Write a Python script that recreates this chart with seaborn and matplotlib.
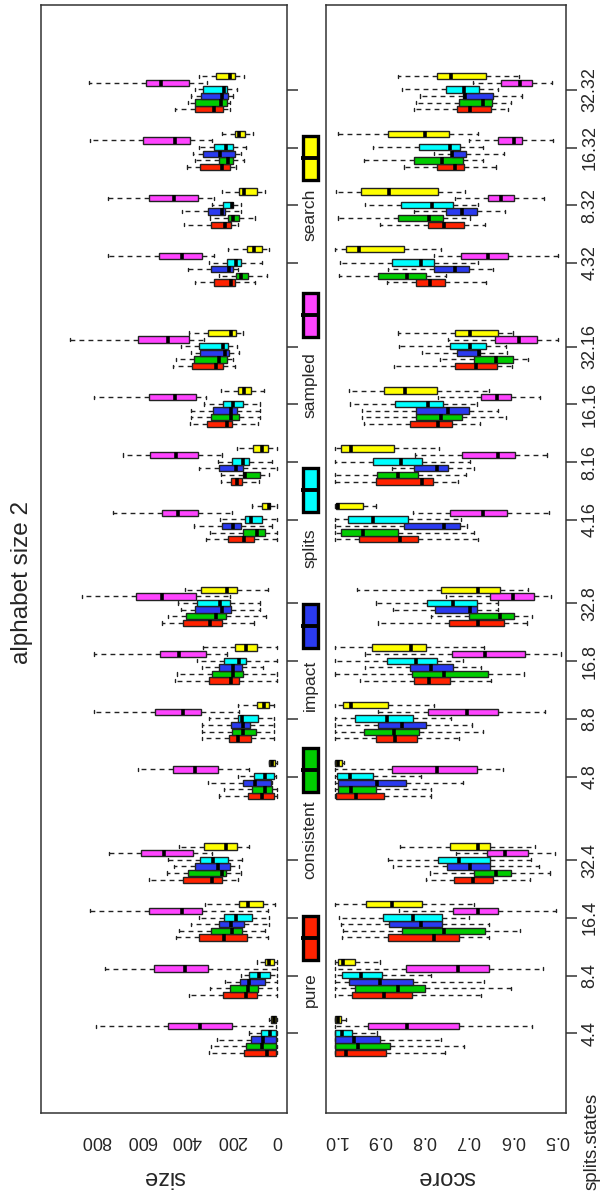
import matplotlib
matplotlib.use('Agg')
import matplotlib.pyplot as plt
from matplotlib.patches import Rectangle
import pandas as pd
import seaborn as sns

# methods / colours (bottom to top inside each group)
methods = ['pure', 'consistent', 'impact', 'splits', 'sampled', 'search']
method_colors = ['#FF2200', '#00CC00', '#2A3AF0', '#00FFFF', '#FF44FF', '#FFFF00']

# splits.states groups, in plotting order
group_labels = ['4.4', '8.4', '16.4', '32.4',
                '4.8', '8.8', '16.8', '32.8',
                '4.16', '8.16', '16.16', '32.16',
                '4.32', '8.32', '16.32', '32.32']

size_ticks = [0, 200, 400, 600, 800, 1000]
size_tick_labels = ['0', '200', '400', '600', '800', '']
score_ticks = [1.0, 0.9, 0.8, 0.7, 0.6, 0.5]
score_tick_labels = ['1.0', '0.9', '0.8', '0.7', '0.6', '0.5']

# five-number summaries (whisker, hinge, median, hinge, whisker)
size_pure = [[300, 147, 48, 5, 2], [391, 240, 137, 91, 2], [447, 348, 235, 134, 43], [566, 418, 288, 245, 173],
             [257, 132, 70, 14, 2], [331, 216, 173, 117, 17], [451, 302, 207, 171, 0], [511, 416, 297, 245, 105],
             [314, 219, 146, 105, 2], [249, 206, 180, 156, 82], [387, 309, 223, 199, 86], [459, 377, 271, 242, 189],
             [362, 278, 207, 189, 99], [413, 293, 233, 206, 173], [399, 341, 245, 209, 185], [451, 363, 279, 242, 211]]
size_consistent = [[293, 137, 70, 5, 2], [297, 211, 130, 87, 2], [434, 295, 199, 156, 57], [488, 394, 245, 228, 159],
                   [237, 111, 57, 22, 2], [331, 199, 151, 96, 17], [442, 288, 197, 151, 0], [482, 403, 271, 225, 51],
                   [297, 151, 91, 53, 2], [249, 154, 142, 77, 36], [382, 295, 207, 168, 77], [447, 370, 259, 223, 194],
                   [259, 185, 159, 130, 48], [297, 219, 197, 171, 99], [362, 259, 219, 194, 146], [393, 363, 247, 223, 211]]
size_impact = [[266, 117, 62, 5, 2], [231, 165, 125, 57, 2], [382, 257, 206, 146, 36], [456, 365, 262, 211, 168],
               [305, 154, 99, 27, 22], [331, 206, 151, 120, 17], [331, 257, 194, 156, 65], [425, 365, 245, 206, 77],
               [370, 245, 194, 159, 26], [348, 259, 185, 151, 0], [382, 283, 207, 177, 77], [382, 341, 233, 214, 168],
               [394, 291, 214, 194, 173], [422, 305, 245, 231, 159], [374, 329, 254, 189, 163], [382, 336, 245, 219, 197]]
size_splits = [[125, 74, 31, 5, 2], [163, 125, 82, 31, 2], [348, 237, 185, 111, 36], [482, 343, 283, 219, 156],
               [173, 105, 57, 17, 5], [300, 173, 156, 86, 17], [357, 237, 168, 139, 0], [437, 353, 254, 211, 77],
               [254, 142, 117, 69, 2], [262, 199, 151, 125, 26], [322, 240, 194, 154, 77], [427, 345, 240, 219, 177],
               [300, 223, 185, 159, 70], [288, 240, 202, 194, 163], [348, 278, 225, 194, 139], [365, 329, 237, 223, 180]]
size_sampled = [[802, 485, 343, 199, 5], [759, 545, 408, 305, 2], [828, 566, 422, 331, 43], [742, 602, 502, 374, 288],
                [614, 459, 365, 262, 125], [811, 542, 417, 339, 168], [811, 516, 434, 317, 223], [862, 626, 511, 360, 211],
                [725, 511, 437, 351, 202], [682, 562, 447, 351, 245], [811, 567, 451, 360, 314], [914, 614, 482, 391, 322],
                [746, 523, 420, 331, 279], [746, 567, 456, 351, 279], [828, 593, 451, 386, 288], [831, 581, 514, 391, 310]]
size_search = [[39, 27, 14, 5, 2], [91, 57, 36, 14, 2], [319, 168, 130, 65, 10], [434, 326, 228, 180, 125],
               [39, 36, 22, 9, 2], [173, 91, 60, 36, 14], [327, 189, 137, 91, 0], [408, 336, 223, 180, 43],
               [111, 69, 39, 31, 2], [177, 108, 70, 43, 0], [250, 173, 146, 117, 60], [389, 305, 207, 185, 154],
               [219, 134, 103, 70, 39], [245, 168, 146, 91, 57], [245, 189, 171, 142, 108], [348, 269, 209, 187, 146]]

score_pure = [[1.0, 0.999, 0.976, 0.886, 0.753], [1.0, 0.961, 0.889, 0.826, 0.672], [0.985, 0.880, 0.778, 0.720, 0.653], [0.796, 0.732, 0.690, 0.645, 0.562],
              [1.0, 0.997, 0.953, 0.889, 0.784], [1.0, 0.908, 0.864, 0.816, 0.721], [0.943, 0.823, 0.789, 0.741, 0.649], [0.904, 0.743, 0.677, 0.619, 0.568],
              [1.0, 0.946, 0.854, 0.813, 0.678], [1.0, 0.907, 0.803, 0.780, 0.723], [0.935, 0.830, 0.768, 0.736, 0.674], [0.867, 0.730, 0.683, 0.636, 0.601],
              [0.883, 0.818, 0.787, 0.752, 0.661], [0.898, 0.791, 0.754, 0.709, 0.662], [0.844, 0.770, 0.730, 0.710, 0.638], [0.821, 0.725, 0.697, 0.649, 0.610]]
score_consistent = [[1.0, 0.999, 0.948, 0.876, 0.709], [1.0, 0.955, 0.859, 0.797, 0.603], [0.981, 0.848, 0.754, 0.662, 0.584], [0.786, 0.686, 0.638, 0.603, 0.516],
                    [1.0, 0.992, 0.963, 0.908, 0.784], [1.0, 0.934, 0.867, 0.810, 0.667], [1.0, 0.826, 0.754, 0.656, 0.575], [0.784, 0.699, 0.629, 0.597, 0.556],
                    [1.0, 0.987, 0.937, 0.859, 0.688], [1.0, 0.905, 0.857, 0.812, 0.704], [0.940, 0.818, 0.762, 0.713, 0.614], [0.764, 0.687, 0.638, 0.600, 0.566],
                    [0.991, 0.904, 0.837, 0.796, 0.750], [0.994, 0.859, 0.789, 0.756, 0.695], [0.935, 0.821, 0.758, 0.712, 0.667], [0.818, 0.721, 0.667, 0.647, 0.603]]
score_impact = [[1.0, 0.999, 0.957, 0.898, 0.761], [1.0, 0.968, 0.898, 0.825, 0.664], [0.987, 0.878, 0.806, 0.760, 0.653], [0.869, 0.748, 0.697, 0.651, 0.541],
                [1.0, 0.992, 0.905, 0.841, 0.712], [1.0, 0.904, 0.850, 0.796, 0.691], [0.933, 0.830, 0.783, 0.734, 0.672], [0.870, 0.774, 0.695, 0.680, 0.634],
                [1.0, 0.845, 0.754, 0.719, 0.702], [0.872, 0.821, 0.771, 0.745, 0.687], [0.940, 0.818, 0.745, 0.699, 0.632], [0.805, 0.725, 0.675, 0.674, 0.612],
                [0.880, 0.776, 0.730, 0.699, 0.645], [0.821, 0.750, 0.715, 0.680, 0.617], [0.776, 0.736, 0.736, 0.706, 0.619], [0.808, 0.712, 0.708, 0.645, 0.579]]
score_splits = [[1.0, 0.999, 0.985, 0.962, 0.905], [1.0, 0.985, 0.941, 0.894, 0.784], [0.990, 0.891, 0.824, 0.760, 0.699], [0.880, 0.769, 0.721, 0.652, 0.559],
                [1.0, 0.996, 0.965, 0.915, 0.806], [1.0, 0.955, 0.883, 0.825, 0.738], [1.0, 0.883, 0.818, 0.771, 0.712], [0.907, 0.793, 0.734, 0.681, 0.632],
                [1.0, 0.970, 0.914, 0.835, 0.717], [1.0, 0.915, 0.852, 0.805, 0.695], [0.965, 0.865, 0.791, 0.757, 0.680], [0.856, 0.742, 0.695, 0.660, 0.616],
                [0.989, 0.872, 0.806, 0.776, 0.677], [0.933, 0.852, 0.782, 0.734, 0.678], [0.915, 0.811, 0.741, 0.719, 0.667], [0.848, 0.750, 0.709, 0.675, 0.632]]
score_sampled = [[1.0, 0.926, 0.837, 0.721, 0.557], [1.0, 0.839, 0.723, 0.653, 0.531], [0.856, 0.734, 0.678, 0.633, 0.502], [0.727, 0.658, 0.617, 0.566, 0.505],
                 [1.0, 0.871, 0.770, 0.681, 0.621], [0.902, 0.791, 0.703, 0.634, 0.527], [0.933, 0.736, 0.662, 0.573, 0.492], [0.750, 0.651, 0.599, 0.551, 0.514],
                 [0.824, 0.741, 0.667, 0.613, 0.518], [0.819, 0.715, 0.632, 0.594, 0.523], [0.767, 0.671, 0.636, 0.603, 0.538], [0.745, 0.639, 0.586, 0.546, 0.499],
                 [0.778, 0.717, 0.655, 0.610, 0.498], [0.730, 0.655, 0.626, 0.597, 0.530], [0.699, 0.632, 0.597, 0.578, 0.510], [0.690, 0.626, 0.584, 0.556, 0.512]]
score_search = [[1.0, 0.999, 0.994, 0.987, 0.975], [1.0, 0.994, 0.981, 0.955, 0.899], [1.0, 0.930, 0.872, 0.803, 0.688], [0.854, 0.740, 0.679, 0.652, 0.549],
                [1.0, 1.0, 0.993, 0.985, 0.980], [1.0, 0.982, 0.963, 0.881, 0.778], [1.0, 0.917, 0.829, 0.795, 0.664], [0.950, 0.761, 0.678, 0.629, 0.566],
                [1.0, 0.998, 0.994, 0.937, 0.907], [1.0, 0.987, 0.963, 0.867, 0.765], [0.968, 0.889, 0.843, 0.770, 0.654], [0.859, 0.729, 0.697, 0.632, 0.599],
                [1.0, 0.975, 0.946, 0.845, 0.761], [0.997, 0.941, 0.878, 0.768, 0.708], [0.994, 0.880, 0.797, 0.743, 0.677], [0.859, 0.771, 0.738, 0.660, 0.586]]

size_data = [size_pure, size_consistent, size_impact, size_splits, size_sampled, size_search]
score_data = [score_pure, score_consistent, score_impact, score_splits, score_sampled, score_search]

# group layout: 4 boxes per states group, wider gap between groups
group_pos = [g * 4.45 + s + 1 for g in range(4) for s in range(4)]
box_pos = [p - 0.05 for p in group_pos]


def long_frame(data):
    rows = []
    for name, per_group in zip(methods, data):
        for p, five in zip(box_pos, per_group):
            for v in five:
                rows.append({'pos': p, 'method': name, 'value': v})
    return pd.DataFrame(rows)


sns.set_style('white')
plt.rcParams['font.family'] = ['Liberation Sans', 'DejaVu Sans']

W, H = 607, 1191
fig = plt.figure(figsize=(W / 100, H / 100), dpi=100)


def px_axes(x0, x1, y0, y1):
    return fig.add_axes([x0 / W, 1 - y1 / H, (x1 - x0) / W, (y1 - y0) / H])


ax_size = px_axes(41, 287, 5, 1113)
ax_score = px_axes(326, 566, 5, 1113)

for ax, data in ((ax_size, size_data), (ax_score, score_data)):
    sns.boxplot(data=long_frame(data), x='value', y='pos', hue='method',
                hue_order=methods, palette=method_colors, orient='h',
                native_scale=True, whis=(0, 100), width=0.69, gap=0.04,
                saturation=1, linecolor='#222222', linewidth=1.0,
                dodge=True, legend=False, ax=ax,
                medianprops={'color': 'black', 'linewidth': 2.6},
                whiskerprops={'linestyle': (0, (3.5, 3))})
    ax.set_ylim(-0.38, 18.82)
    ax.set_yticks(group_pos)
    ax.yaxis.tick_right()
    ax.set_ylabel('')
    for sp in ax.spines.values():
        sp.set_color('#333333')
        sp.set_linewidth(1.1)
    ax.tick_params(axis='both', direction='out', length=8, width=1.1,
                   color='#333333', labelsize=13)
    ax.tick_params(axis='x', pad=6)

ax_size.set_xlim(1043, -42)
ax_size.set_xticks(size_ticks)
ax_size.set_xticklabels(size_tick_labels, rotation=180)
ax_size.tick_params(axis='y', labelright=False)

ax_score.set_xlim(1.020, 0.480)
ax_score.set_xticks(score_ticks)
ax_score.set_xticklabels(score_tick_labels, rotation=180)
ax_score.set_yticklabels(group_labels, rotation=90, va='center')
ax_score.tick_params(axis='y', pad=3)

for ax, name in ((ax_size, 'size'), (ax_score, 'score')):
    ax.set_xlabel(name, fontsize=17, rotation=180)
    ax.xaxis.set_label_coords(0.5, -64 / 1108)
    ax.xaxis.label.set_va('center')

fig.text(22 / W, 1 - 582 / H, 'alphabet size 2', rotation=90,
         ha='center', va='center', fontsize=17.5)
fig.text(592 / W, 1 - 1141 / H, 'splits.states', rotation=90,
         ha='center', va='center', fontsize=13.5)

# legend strip between the panels, drawn in pixel units
ax_leg = px_axes(287, 326, 5, 1113)
ax_leg.set_xlim(287, 326)
ax_leg.set_ylim(1113, 5)
ax_leg.axis('off')
key_y = [938, 770, 626, 490, 315, 158]
label_y = [990, 840, 685, 548, 385, 215]
kx = 310
for name, col, ky, ly in zip(methods, method_colors, key_y, label_y):
    ax_leg.add_patch(Rectangle((kx - 7.5, ky - 22), 15, 44, facecolor=col,
                               edgecolor='black', linewidth=2.4))
    ax_leg.plot([kx - 9, kx + 9], [ky, ky], color='black', linewidth=2.8,
                solid_capstyle='butt')
    ax_leg.text(kx, ly, name, rotation=90, ha='center', va='center', fontsize=12.5)

fig.savefig('out.png', dpi=100)
